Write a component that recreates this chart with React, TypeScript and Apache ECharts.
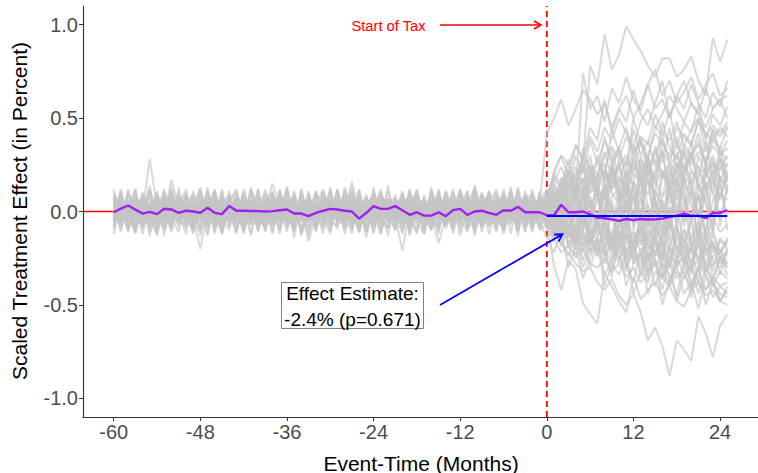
import React, { useEffect, useRef } from "react";
import * as echarts from "echarts";

// Event time in months (-60 .. 25)
const MONTH_START = -60;
const MONTH_END = 25;
const X_TICKS = [-60, -48, -36, -24, -12, 0, 12, 24];
const Y_TICKS = [-1.0, -0.5, 0.0, 0.5, 1.0];

// Treated unit (purple), in percent-scale units
const treatedPre = [
  -0.004, 0.015, 0.032, 0.01, -0.011, -0.002, -0.014, 0.015, 0.011, -0.007,
  0.004, 0.0, -0.007, 0.02, -0.007, -0.014, 0.029, 0.004, 0.004, 0.003,
  0.002, 0.0, 0.002, 0.007, 0.011, -0.011, -0.011, -0.025, -0.007, 0.004,
  0.014, 0.011, 0.004, 0.0, -0.038, -0.007, 0.029, 0.014, 0.014, 0.029,
  0.007, -0.018, -0.004, -0.022, -0.022, -0.004, -0.025, 0.007, 0.014, -0.018,
  0.0, 0.004, -0.007, -0.018, 0.007, 0.004, 0.025, -0.004, -0.004, -0.004,
];
const treatedPost = [
  -0.02, -0.02, 0.036, -0.004, -0.004, 0.0, -0.015, -0.033, -0.036, -0.042,
  -0.05, -0.04, -0.046, -0.04, -0.043, -0.042, -0.038, -0.03, -0.022, -0.012,
  -0.022, -0.022, -0.036, -0.008, -0.008, 0.008,
];

// Effect estimate (blue segment over the post period)
const EFFECT = -0.024;

// Placebo units (grey), values in hundredths; pre period (60) then post period (26)
const placebo01 = [3,-2,5,1,-4,2,6,-1,3,-5, 0,4,-3,2,7,-2,1,-4,5,2, -3,6,0,-2,4,-5,3,1,-1,5, -4,2,7,-3,0,4,-2,3,-6,1, 5,-1,2,-4,6,0,-3,4,1,-2, 3,-5,2,6,-1,0,4,-3,2,1,
  3,5,8,12,20,25,78,68,95,76,84,99,92,86,78,72,82,82,72,76,83,70,62,93,80,92];
const placebo02 = [-4,1,3,-2,6,-3,0,5,-1,2, 4,-6,2,1,-3,5,0,-2,3,-4, 1,5,-3,2,-1,4,-5,3,0,2, -2,4,1,-5,3,6,-1,0,-3,2, 5,-2,-4,3,1,-1,4,-3,2,6, -1,3,-4,0,5,-2,2,-3,1,4,
  42,50,60,46,55,65,60,52,58,45,55,62,50,58,68,55,60,50,62,70,58,52,66,55,60,50];
const placebo03 = [1,4,-3,0,2,-5,3,6,-2,1, -3,2,5,-1,-4,3,1,-2,6,0, 2,-3,4,1,-6,2,5,-1,3,-2, 4,0,-3,5,2,-4,1,3,-1,6, -2,3,1,-5,4,2,-3,0,5,-1, 2,-4,3,1,-2,6,0,-3,4,2,
  5,20,30,25,35,28,40,32,45,38,50,42,35,48,55,45,52,62,55,48,58,52,45,55,60,62];
const placebo04 = [-2,5,0,3,-4,1,-1,4,2,-6, 3,1,-2,5,0,-3,4,2,-5,1, 6,-2,1,3,-4,0,2,-1,5,-3, 1,4,-2,0,3,-5,2,6,-1,3, -3,1,4,-2,2,5,-4,1,0,3, -1,2,5,-3,1,-2,4,0,-4,3,
  2,8,12,22,18,15,25,20,30,35,28,40,32,38,30,42,36,30,45,40,35,48,42,38,45,40];
const placebo05 = [0,3,-2,4,1,28,2,-3,5,0, -1,4,2,-5,3,1,-2,6,0,-3, 4,-1,2,3,-4,5,0,-2,1,4, -3,2,5,-1,0,3,-4,2,6,-2, 1,-3,4,2,-1,5,-2,0,3,-4, 2,5,-1,3,0,-2,4,1,-3,2,
  0,5,10,8,15,12,20,18,22,15,25,30,22,28,20,32,38,28,35,30,25,32,28,35,30,38];
const placebo06 = [5,-1,2,-4,3,0,6,-2,1,3, -5,2,4,-1,1,-3,5,2,-2,0, 3,-4,1,6,-2,2,-1,4,-3,1, 0,5,-2,3,-5,1,4,-1,2,-3, 6,0,-2,3,1,-4,2,5,-1,0, -3,4,1,-2,5,2,-1,3,-5,1,
  -2,4,8,5,12,10,15,8,12,18,14,20,25,18,22,28,20,25,30,22,28,24,20,26,22,30];
const placebo07 = [-3,2,-6,1,-2,4,-5,0,2,-4, 1,-3,3,-7,0,2,-4,1,-2,3, -5,0,2,-3,1,-6,3,-1,0,-4, 2,-2,-5,1,3,-3,0,-6,2,-1, -3,4,-2,0,-5,2,1,-4,3,-2, 0,-3,2,-5,1,-1,-4,2,-2,-3,
  -2,-10,-18,-22,-28,-32,-30,-38,-42,-36,-45,-50,-44,-54,-69,-62,-72,-88,-69,-74,-80,-56,-65,-78,-61,-55];
const placebo08 = [-1,-4,2,-3,0,-6,3,-2,1,-5, 2,-3,-20,0,-4,3,-2,-5,1,-1, -3,2,-4,0,-6,1,3,-2,-4,2, -1,-5,3,0,-2,-4,1,2,-6,0, 3,-3,-1,2,-5,0,-2,4,-3,-1, 1,-4,-2,3,-5,0,2,-3,-1,-2,
  -5,-29,-42,-26,-31,-49,-55,-60,-33,-40,-48,-54,-35,-47,-42,-38,-45,-40,-48,-51,-42,-38,-45,-42,-48,-50];
const placebo09 = [2,-5,-1,3,-3,0,-4,1,-2,4, -6,0,2,-3,1,-5,3,-1,-2,2, 0,-4,5,-2,-3,1,-1,4,-5,0, 3,-2,-1,-4,2,0,-6,3,-2,1, -1,2,-4,1,-3,5,-2,-5,0,2, -3,1,-2,4,-4,0,-1,2,-5,-2,
  -2,-15,-22,-18,-25,-20,-28,-30,-25,-32,-28,-35,-30,-38,-33,-28,-35,-40,-32,-36,-30,-38,-42,-35,-40,-38];
const placebo10 = [-2,1,-4,3,0,-3,2,-5,1,-1, 3,-2,0,-5,2,-1,-3,4,-2,0, -4,2,1,-3,0,3,-5,1,-2,2, -1,-3,4,0,-2,1,-4,2,0,-3, -21,2,-1,-4,3,0,-2,1,-5,2, 0,-3,1,-1,4,-2,-4,2,0,-3,
  0,-8,-12,-10,-15,-18,-14,-20,-22,-18,-25,-20,-24,-28,-22,-26,-30,-24,-28,-25,-30,-26,-32,-28,-25,-30];
const placebo11 = [4,-3,1,-1,2,-5,0,3,-2,5, -1,2,-4,1,6,-3,0,2,-1,-4, 3,0,-2,5,-1,-3,2,-4,4,0, -2,3,1,-5,0,4,-1,-3,2,5, -4,1,3,-2,0,-1,5,-3,2,-2, 4,0,-5,2,1,-3,3,-1,0,2,
  3,-5,-8,-12,-9,-14,-10,-16,-12,-18,-15,-20,-16,-12,-18,-22,-16,-20,-24,-18,-22,-25,-20,-18,-24,-22];
const placebo12 = [1,5,-2,0,3,-1,4,-4,2,0, 5,-2,1,3,-3,2,6,-1,0,4, -2,1,15,3,-1,0,5,-3,2,1, 4,-1,-3,2,6,0,-2,3,1,-4, 2,5,-1,0,3,-3,1,4,-2,2, 6,-1,0,3,-2,4,1,-3,5,0,
  2,-4,6,-3,8,-5,4,10,-6,8,12,-4,6,15,-8,10,5,-10,12,8,-6,14,4,-8,10,6];
const placebo13 = [-3,0,4,-1,-5,2,1,-2,5,-3, 0,3,-1,-4,2,4,-3,1,-2,6, 1,-5,3,0,2,-2,4,-1,-3,3, 5,-4,0,16,-1,-3,3,5,-2,0, -4,2,1,6,-3,0,-1,3,4,-5, 2,0,3,-4,1,5,-2,-1,2,-3,
  1,6,-3,9,2,-7,5,-2,11,-5,4,16,-3,8,-9,12,2,-6,18,5,-4,9,-11,6,14,-2];
const placebo14 = [6,2,-1,4,0,-3,5,1,-2,3, 2,-1,5,0,4,-2,1,6,-3,2, 5,0,3,-2,6,1,-1,4,2,-4, 3,6,0,-1,5,2,-3,4,1,0, 6,-2,3,1,-1,4,0,5,-3,2, 1,4,-2,6,0,3,-1,2,5,1,
  5,12,8,15,6,18,10,14,22,12,18,9,20,16,25,14,22,11,26,18,15,24,12,20,28,16];
const placebo15 = [-5,-2,1,-4,2,-6,0,-3,1,-1, -4,2,-2,-6,0,1,-5,-1,3,-3, -2,-5,1,-1,-4,2,-3,0,-6,1, -3,0,-2,2,-5,-1,1,-4,0,-2, 1,-6,-3,0,-1,-4,2,-2,-5,0, -2,1,-4,-3,0,-5,-1,2,-3,-4,
  -4,-10,-6,-14,-8,-5,-16,-9,-12,-20,-7,-15,-11,-22,-13,-8,-18,-25,-12,-16,-21,-10,-14,-19,-23,-15];
const placebo16 = [2,-1,3,6,-2,0,4,-4,1,5, -3,0,2,-1,4,-5,3,1,0,-2, 4,2,-3,5,1,-1,0,3,-4,2, 6,-1,1,-3,2,4,-2,0,5,-1, 3,-4,0,2,-2,6,1,-3,4,0, -1,2,4,-2,3,-5,2,0,1,3,
  0,8,-5,12,18,6,22,10,-3,15,24,8,30,14,20,35,18,26,12,32,22,16,38,20,28,24];
const placebo17 = [-1,3,-5,2,4,-2,0,1,-3,6, 2,-4,1,3,-1,0,-5,4,2,-2, 1,3,-4,-1,5,0,2,-3,1,-5, 0,2,3,-4,1,-2,5,-1,-3,2, 4,0,-2,1,-5,3,2,-1,0,4, -3,2,0,5,-2,1,-4,3,-1,0,
  -3,2,-8,-4,-12,5,-15,-6,-10,-18,-3,-14,-20,-8,-16,-24,-11,-6,-19,-26,-13,-9,-22,-17,-28,-20];
const placebo18 = [3,0,-3,5,1,-2,2,-4,4,1, -1,5,-3,0,2,-2,4,1,-4,3, 0,-2,4,1,-5,3,-1,2,0,5, -3,1,2,-1,4,0,-4,5,2,-2, 1,3,-2,5,-1,-17,-3,0,4,-1, 3,-2,2,0,-4,1,5,-3,2,1,
  4,-2,10,3,-6,14,7,-4,12,20,5,-8,16,9,25,4,-10,18,11,-5,22,15,6,-12,19,10];
const placebo19 = [0,-4,2,-1,5,-3,1,3,-2,-5, 4,1,-3,2,0,5,-4,-1,3,0, -3,4,-1,-2,3,0,2,-5,4,-1, 2,-3,0,4,-2,3,1,-4,0,5, -2,-1,3,-4,2,1,-3,4,-1,0, 5,-2,1,-3,0,2,-1,4,-4,2,
  -6,-12,-3,-18,-8,-22,-14,-5,-20,-28,-10,-24,-16,-32,-12,-26,-36,-18,-30,-22,-34,-15,-28,-38,-24,-30];
const placebo20 = [4,2,-1,0,3,-4,6,1,-2,2, 0,3,5,-3,1,-1,2,-4,4,3, -2,0,1,6,-3,2,4,-1,0,-3, 5,1,-2,3,0,-4,2,6,-1,1, -2,4,0,-3,5,2,-1,1,3,-4, 0,3,-2,1,6,-1,2,-3,0,4,
  8,15,5,20,12,25,10,30,18,22,35,15,28,40,20,32,26,45,22,36,30,42,25,38,34,45];
const placebo21 = [-2,4,0,-5,3,1,-3,2,0,-1, 5,-2,-4,3,0,2,-1,-3,4,1, -4,3,0,-2,1,5,-3,0,-1,3, -1,-4,3,1,-2,0,4,-3,1,-5, 2,0,-1,4,-3,1,-5,2,3,-2, 14,1,3,-1,-2,4,0,-3,1,-1,
  2,-6,4,-10,6,-3,-12,8,-5,-15,3,-9,10,-18,-4,7,-14,-8,5,-20,-6,9,-16,-3,-11,-7];
const placebo22 = [1,-2,-4,3,0,5,-1,-3,2,4, -2,0,3,-1,-5,2,1,4,-3,0, 3,-1,2,-4,0,1,-2,5,-3,2, -4,3,0,2,-1,-3,5,1,-2,-4, 0,4,-1,-2,6,-4,3,0,-1,5, -2,0,4,-3,2,-1,1,-5,3,-2,
  -1,10,4,16,8,-2,20,12,6,25,14,3,28,18,9,22,32,12,26,16,8,30,20,14,35,18];
const placebo23 = [-4,-1,2,-3,4,0,-2,5,-5,1, 3,-3,0,2,-2,-4,1,3,-1,-6, 2,0,-3,4,-2,1,-4,-1,3,0, 1,-2,5,-3,0,2,-1,-5,3,-1, -2,1,-4,3,0,-3,2,4,-2,1, 0,-5,2,-1,3,0,-3,1,-2,4,
  -3,-8,-14,-6,-18,-10,-22,-15,-28,-12,-25,-32,-18,-35,-22,-40,-28,-34,-45,-26,-38,-30,-42,-36,-48,-40];
const placebo24 = [2,3,-3,1,-1,4,2,-2,17,3, 1,-4,4,2,-1,0,3,-3,5,-2, -1,2,4,-2,3,-4,1,2,-1,4, 0,-1,3,5,-2,1,-3,4,0,2, 3,-2,1,0,4,-1,3,-4,2,1, -3,4,0,2,-1,3,-2,5,1,-1,
  6,3,14,-4,9,18,2,-7,15,24,5,11,-9,20,28,6,-12,16,32,9,-5,22,14,-10,26,12];
const placebo25 = [-1,0,5,-2,2,-3,-1,3,-4,0, 4,1,-2,-5,3,1,-3,0,2,-1, 5,-3,-1,3,-5,4,0,-2,2,-1, 3,0,-4,2,1,-2,3,-1,-4,4, -1,-3,2,0,-2,3,-4,1,5,-3, 2,-1,-3,4,0,-2,3,1,-4,0,
  0,-4,3,-9,-2,6,-13,-5,2,-16,-8,4,-20,-10,-1,-24,-14,3,-28,-9,-18,-4,-30,-12,-22,-16];
const placebo26 = [3,5,-2,0,-3,2,4,-1,1,-4, -2,3,0,6,-1,-4,2,0,4,1, 2,-1,-5,0,3,-2,5,2,-4,3, -1,4,2,-2,3,-3,0,1,5,-2, 4,-3,6,1,0,-2,4,3,-1,-3, 1,-2,5,0,-4,3,1,-1,4,2,
  10,18,12,24,15,30,22,26,38,28,34,45,30,40,36,52,42,38,48,35,44,50,40,46,42,48];
const placebo27 = [-3,1,-2,4,-4,0,2,-1,-5,3, 0,-3,2,-2,4,-1,-4,1,0,2, -3,5,-2,-1,0,-4,2,-16,-1,-3, 4,-2,1,-5,2,0,-1,3,-3,1, -2,5,-1,-3,1,4,-2,0,-4,2, -1,-3,3,0,-2,1,-4,2,-1,3,
  -5,-2,-9,-14,-6,-11,-18,-8,-15,-22,-12,-6,-19,-26,-10,-16,-23,-30,-14,-20,-27,-18,-32,-24,-20,-28];
const placebo28 = [1,-3,4,2,-2,3,-5,1,3,0, -1,4,-2,1,3,-3,0,5,-4,2, 1,3,-1,-3,4,0,2,-2,5,-4, 2,0,-3,4,1,-1,3,-2,0,5, -3,2,4,-1,0,3,-2,5,1,-3, 2,1,-2,4,-3,0,5,-1,2,-2,
  3,0,-5,6,-2,9,4,-8,12,2,-6,15,7,-3,18,-10,8,14,-5,20,3,-12,16,10,-4,12];
const placebo29 = [0,2,-3,5,1,-1,3,-4,2,0, 4,-2,1,3,-5,0,2,-1,4,-3, 1,5,-2,0,3,-1,-4,2,1,3, -2,0,4,-3,1,5,-1,2,-4,0, 3,1,-2,4,-1,-3,2,0,5,-2, 1,-4,3,0,2,-1,4,-2,0,3,
  4,22,30,18,36,28,45,38,60,42,55,48,65,52,46,58,70,50,62,55,68,58,50,64,56,70];
const placebo30 = [-2,3,1,-4,0,2,-1,5,-3,1, 2,0,-4,3,1,-2,5,-1,0,-3, 4,-2,0,2,-3,1,3,-5,2,0, -1,4,-2,0,3,-4,1,2,-1,5, -3,0,2,-1,4,1,-4,3,0,-2, 5,-1,0,-3,2,4,-2,1,3,-1,
  2,6,4,10,8,74,55,62,48,66,58,72,60,54,68,76,62,70,58,64,72,60,68,74,62,66];
const placebo31 = [8,-6,11,-3,5,-9,2,10,-4,7, -8,3,12,-5,1,-10,6,-2,9,-7, 4,-11,7,0,-6,10,-3,5,-9,2, 11,-4,6,-8,3,-2,9,-6,1,-10, 5,8,-3,-9,12,-1,4,-7,10,-5, 2,-8,6,11,-4,0,-9,7,-3,5,
  -4,10,-12,6,-18,14,-8,20,-15,4,-22,12,-6,24,-16,8,-25,15,-10,18,-20,10,-14,22,-8,14];
const placebo32 = [-7,4,-10,2,8,-5,-12,6,1,-8, 9,-3,-6,11,-9,3,5,-11,7,-2, -8,6,10,-4,-1,8,-10,3,-6,9, -3,12,-7,1,-9,5,7,-12,4,-5, 10,-6,2,-10,7,-2,-8,9,-4,6, -11,3,8,-6,-2,10,-7,4,-9,1,
  6,-10,-18,-8,-24,-12,-30,-16,-22,-35,-14,-28,-38,-20,-32,-26,-42,-24,-36,-30,-46,-28,-34,-40,-32,-36];
const placebo33 = [10,2,-5,8,-9,4,-2,12,-6,3, -4,9,0,-8,6,-12,5,2,-7,11, -1,-9,8,4,-11,6,-3,10,-5,1, 7,-6,13,-2,-8,3,9,-10,5,-4, -7,11,-3,6,-10,2,8,-5,12,-1, 4,-9,7,-3,10,-6,1,9,-8,5,
  12,4,18,8,24,14,30,10,22,34,16,28,20,38,24,18,32,26,40,22,30,36,26,42,30,34];
const placebo34 = [-9,5,1,-11,7,-4,10,-2,-7,3, 6,-10,8,-1,-5,12,-8,4,-3,9, -6,2,-12,7,5,-9,3,-4,11,-7, 1,8,-5,-10,6,2,-8,10,-3,-6, 9,-4,-11,5,0,-7,11,-2,6,-9, -5,10,-1,-8,4,7,-10,3,-6,8,
  -8,-14,-4,-20,-10,-26,-16,-6,-22,-32,-18,-12,-28,-22,-36,-16,-30,-40,-24,-34,-28,-44,-30,-38,-48,-42];
const placebo35 = [5,-8,9,3,-6,11,-4,-9,7,0, -12,6,2,-7,10,-3,-5,8,-10,4, 9,-2,-8,12,-5,1,7,-11,3,6, -9,4,-1,10,-7,8,-3,-6,11,-2, -5,9,3,-12,6,-1,10,-8,2,7, -10,5,-4,8,-7,12,-3,0,6,-9,
  2,14,8,22,4,28,16,10,32,18,26,12,36,22,30,16,40,26,20,34,28,38,24,44,32,28];
const placebo36 = [-3,9,-11,5,2,-8,7,-1,10,-6, 4,-9,11,-3,-7,6,0,-12,8,3, -10,7,-2,9,-5,-8,12,-4,1,-9, 6,-1,-7,3,11,-10,4,8,-6,2, -12,5,9,-3,-8,7,-1,11,-5,-2, 8,-7,3,-10,6,1,-9,5,10,-4,
  -2,-8,6,-14,2,-18,-6,10,-20,-12,4,-24,-10,8,-28,-16,2,-22,-30,6,-18,-26,-8,-32,-14,-20];
const placebo37 = [7,-2,4,-9,10,1,-6,8,-3,-11, 5,9,-4,-1,11,-8,3,-5,10,-2, -7,4,8,-10,2,-3,9,-6,5,11, -4,-8,6,1,-11,7,-2,10,-5,3, 8,-10,2,7,-4,-9,11,-1,5,-6, -2,9,-7,4,10,-5,-3,8,-11,6,
  4,12,-2,18,10,-6,24,14,2,28,8,20,-4,30,16,10,34,4,26,18,38,12,22,30,16,26];
const placebo38 = [-6,11,-2,-9,4,8,-12,3,6,-5, 10,-7,1,9,-4,-11,5,7,-8,2, -3,12,-6,-2,8,-9,4,1,-10,7, 5,-4,10,-8,-1,6,-12,9,3,-7, -9,2,7,-5,11,-3,-6,10,-1,4, 12,-8,-3,6,-10,2,9,-4,-7,11,
  -10,-4,-16,-24,-12,-30,-20,-14,-34,-26,-18,-40,-28,-22,-44,-32,-36,-26,-48,-34,-40,-30,-50,-38,-44,-46];
const placebo39 = [9,-5,2,12,-8,-1,6,-10,4,8, -3,-9,7,2,-6,11,-4,5,-12,3, 8,-1,-7,10,4,-11,6,-2,9,-8, 1,11,-5,-3,8,-9,2,12,-6,4, -2,7,-10,5,1,-8,10,3,-4,-11, 6,-3,11,-7,2,5,-9,8,-1,-6,
  8,20,14,28,10,34,22,18,40,26,32,20,44,30,38,24,48,34,28,42,36,50,32,44,40,46];
const placebo40 = [-5,2,-10,7,3,-6,11,-8,0,9, -2,-11,6,4,-9,8,-3,-6,12,-1, 5,-8,3,-12,9,1,-5,7,-10,4, -7,10,-2,5,-11,3,8,-4,-9,6, 2,-6,11,-9,4,-2,7,-12,5,-3, 9,-1,-8,3,-5,10,-7,2,6,-10,
  -6,4,-10,8,-14,2,-18,-4,10,-20,-8,6,-24,-12,4,-16,-26,2,-20,-10,-28,-14,0,-22,-16,-18];
const placebo41 = [2,7,-4,-10,9,-1,5,-7,12,-3, -8,4,10,-5,1,-9,6,11,-2,-6, 3,-10,5,8,-7,2,-4,11,-9,1, 10,-3,-8,6,-1,9,-11,4,7,-5, -4,12,-6,1,8,-10,3,5,-8,9, -7,2,10,-4,-9,6,1,-11,8,3,
  0,-6,10,2,16,-4,20,8,-2,24,12,4,-6,18,28,6,-8,22,14,32,10,-4,26,18,8,22];
const placebo42 = [-8,3,6,-11,1,9,-5,-2,10,-7, 4,-3,-9,8,5,-12,2,7,-6,11, -1,-7,9,-4,12,-8,0,5,-11,6, -5,3,-10,8,2,-6,11,-3,-8,4, 7,-11,1,6,-4,9,-7,-2,10,-9, 3,-5,8,-1,-10,4,7,-8,2,-6,
  -14,-22,-10,-30,-18,-36,-24,-16,-40,-28,-34,-22,-44,-32,-38,-26,-50,-36,-30,-44,-38,-52,-34,-46,-40,-44];
const placebo43 = [6,-10,4,1,-7,11,-3,8,-9,2, 12,-5,-1,7,-11,3,9,-4,-8,5, -6,10,-2,-9,6,4,-12,8,1,-5, 9,-7,3,11,-4,-1,6,-10,5,7, -3,-8,10,-1,4,-12,8,2,-6,11, -9,5,0,-7,12,-3,-5,9,-2,4,
  6,16,24,12,30,20,38,26,18,44,32,24,50,36,28,46,40,54,34,48,42,58,38,52,46,56];
const placebo44 = [-4,8,-1,-12,6,3,-9,10,-5,1, 7,-8,2,11,-6,-3,9,-10,4,6, -11,1,8,-5,3,-9,10,-2,-7,12, -2,5,-9,7,1,-11,4,9,-6,-1, 11,-7,4,-3,-10,8,2,-5,9,-8, -1,6,-12,3,8,-4,-7,11,0,-9,
  -2,-12,4,-18,-8,2,-22,-14,-4,-26,-10,-30,-18,-6,-34,-22,-14,-38,-26,-20,-42,-30,-16,-36,-24,-34];
const placebo45 = [12,-4,6,-9,2,14,-7,1,-11,5, -2,9,-13,4,7,-5,11,-8,0,6, -10,3,8,-6,13,-1,-9,5,2,-12, 7,-3,10,-8,4,-14,6,1,-5,9, -7,11,-2,5,-10,8,-4,12,-6,3, -9,6,1,-11,9,-3,4,-8,10,-1,
  5,-8,12,-4,16,-10,8,-14,18,-6,10,-18,14,-2,20,-12,6,-16,22,-8,12,-20,16,-4,18,-10];
const placebo46 = [-10,6,-3,11,-8,4,-13,9,-1,7, 3,-12,5,-6,10,-2,8,-11,4,-7, 12,-5,1,-9,6,-14,9,-3,11,-4, -6,8,-12,2,5,-9,13,-7,3,-1, 9,-13,6,-4,10,-1,-8,4,-11,7, 2,-7,11,-5,-2,13,-10,6,-4,8,
  -6,8,-14,4,-20,10,-12,-2,-24,6,-16,-8,-28,2,-20,-12,-30,-4,-22,-14,-32,-6,-24,-16,-34,-20];
const placebo47 = [4,-11,9,-2,-7,12,-5,3,-9,10, -6,1,13,-8,5,-3,-10,7,2,-12, 8,-4,-1,11,-9,6,-2,-13,10,3, -8,12,-5,1,-11,7,3,-6,14,-9, 5,-2,-12,9,-4,11,-7,1,6,-10, 13,-5,3,-8,7,-12,10,-1,-6,2,
  10,2,18,-4,14,24,6,-6,20,12,28,0,16,8,30,-2,22,14,6,26,18,-4,24,10,30,16];
const placebo48 = [-1,10,-8,5,-12,3,9,-6,13,-4, 8,-9,2,-13,11,-5,6,-2,-10,12, -7,4,-11,9,0,-6,12,-9,4,-3, 11,-2,7,-12,9,-4,-8,10,-1,6, -11,3,8,-7,13,-5,1,-9,4,11, -6,9,-3,12,-8,2,-11,7,-4,5,
  -8,-16,-4,-12,2,-20,-10,-24,-6,-18,-28,-8,-22,-14,-32,-10,-26,-18,-6,-30,-20,-12,-34,-16,-24,-28];
const placebo49 = [7,3,-10,12,-6,1,8,-13,5,-2, -9,11,-4,6,-12,9,-1,4,-7,13, 2,-8,10,-5,-3,11,-11,7,-6,1, -12,6,4,-9,12,-3,-7,9,-2,-10, 8,-5,12,-11,3,6,-9,2,11,-4, -3,10,-8,5,-12,1,7,-6,12,-9,
  2,10,-6,14,4,-10,18,8,-4,22,12,-8,16,26,2,-12,20,10,-6,24,14,-2,18,28,6,20];
const placebo50 = [-12,5,2,-7,10,-4,-9,11,-1,6, 9,-6,-11,4,12,-8,1,-3,10,-13, 5,9,-7,-2,13,-10,3,6,-8,11, -4,-9,12,-1,7,-11,4,2,-13,8, -3,10,-6,-12,5,9,-2,-7,12,-5, 11,-8,2,6,-10,4,-13,9,3,-7,
  -4,-12,2,-8,-18,-2,-14,-24,-6,-20,-10,-30,-16,-4,-26,-14,-36,-20,-8,-28,-18,-38,-12,-26,-30,-22];
const placebo51 = [3,-7,12,-4,8,-11,1,6,-9,13, -5,-1,10,-12,4,7,-8,11,-3,-6, 12,-10,5,2,-7,9,-13,3,8,-4, -11,6,-2,13,-8,1,10,-5,-9,4, 7,-12,9,-3,-6,11,-1,-10,5,8, -13,4,10,-7,1,-4,12,-11,6,-2,
  8,-2,14,20,6,12,-4,18,26,10,4,22,14,-6,28,16,8,24,-2,20,32,12,6,26,18,14];
const placebo52 = [-5,12,-9,1,6,-13,8,-3,10,-6, 2,7,-10,13,-4,-8,3,12,-11,5, -2,-9,11,-6,4,8,-12,1,9,-5, 13,-7,-3,10,-10,5,-1,-12,7,3, -8,4,11,-2,-9,12,-5,7,-13,1, 6,-11,3,9,-4,-7,13,-2,-10,10,
  -2,4,-10,-4,-16,0,-12,-22,-6,-18,2,-26,-14,-8,-24,-2,-20,-30,-10,-16,-4,-28,-18,-10,-22,-14];

const PLACEBOS = [
  placebo01, placebo02, placebo03, placebo04, placebo05, placebo06, placebo07, placebo08, placebo09, placebo10,
  placebo11, placebo12, placebo13, placebo14, placebo15, placebo16, placebo17, placebo18, placebo19, placebo20,
  placebo21, placebo22, placebo23, placebo24, placebo25, placebo26, placebo27, placebo28, placebo29, placebo30,
  placebo31, placebo32, placebo33, placebo34, placebo35, placebo36, placebo37, placebo38, placebo39, placebo40,
  placebo41, placebo42, placebo43, placebo44, placebo45, placebo46, placebo47, placebo48, placebo49, placebo50,
  placebo51, placebo52,
];

const FONT = "'Liberation Sans', Arial, Helvetica, sans-serif";

export default function App() {
  const ref = useRef<HTMLDivElement>(null);

  useEffect(() => {
    if (!ref.current) return;
    const chart = echarts.init(ref.current, null, { renderer: "svg" });

    const months: number[] = [];
    for (let m = MONTH_START; m <= MONTH_END; m++) months.push(m);

    const placeboSeries = PLACEBOS.map((arr, i) => ({
      type: "line",
      name: "placebo" + (i + 1),
      data: arr.map((v, k) => [months[k], v / 100]),
      showSymbol: false,
      symbol: "none",
      silent: true,
      z: 3,
      lineStyle: { color: "#c4c4c4", width: 2, opacity: 0.65 },
    }));

    const treated = [...treatedPre, ...treatedPost];

    const xMin = -64.25;
    const xMax = 29.25;

    const option: any = {
      animation: false,
      backgroundColor: "#ffffff",
      textStyle: { fontFamily: FONT },
      grid: { left: 83, top: 6, width: 678, height: 411 },
      xAxis: {
        type: "value",
        min: xMin,
        max: xMax,
        splitLine: { show: false },
        axisLine: { show: true, onZero: false, lineStyle: { color: "#333333", width: 1.1 } },
        axisTick: { show: true, length: 4, customValues: X_TICKS, lineStyle: { color: "#333333" } },
        axisLabel: {
          customValues: X_TICKS,
          color: "#4d4d4d",
          fontSize: 20,
          fontFamily: FONT,
          margin: 5,
          formatter: (v: number) => String(v),
        },
      },
      yAxis: {
        type: "value",
        min: -1.1,
        max: 1.1,
        splitLine: { show: false },
        axisLine: { show: true, onZero: false, lineStyle: { color: "#333333", width: 1.1 } },
        axisTick: { show: true, length: 4, customValues: Y_TICKS, lineStyle: { color: "#333333" } },
        axisLabel: {
          customValues: Y_TICKS,
          color: "#4d4d4d",
          fontSize: 20,
          fontFamily: FONT,
          margin: 5,
          formatter: (v: number) => v.toFixed(1),
        },
      },
      series: [
        {
          type: "line",
          name: "zero",
          data: [[xMin, 0], [xMax, 0]],
          showSymbol: false,
          symbol: "none",
          silent: true,
          z: 1,
          lineStyle: { color: "#ff0000", width: 1.6 },
        },
        {
          type: "line",
          name: "taxStart",
          data: [[0, -1.1], [0, 1.1]],
          showSymbol: false,
          symbol: "none",
          silent: true,
          z: 1,
          lineStyle: { color: "#ff0000", width: 1.8, type: [6, 4] },
        },
        ...placeboSeries,
        {
          type: "line",
          name: "treated",
          data: treated.map((v, k) => [months[k], v]),
          showSymbol: false,
          symbol: "none",
          silent: true,
          z: 5,
          lineStyle: { color: "#a020f0", width: 2.4 },
        },
        {
          type: "line",
          name: "effect",
          data: [[0, EFFECT], [MONTH_END, EFFECT]],
          showSymbol: false,
          symbol: "none",
          silent: true,
          z: 6,
          lineStyle: { color: "#0000ff", width: 2 },
        },
      ],
      graphic: [
        {
          type: "text",
          x: 19,
          y: 211,
          rotation: Math.PI / 2,
          style: {
            text: "Scaled Treatment Effect (in Percent)",
            fontSize: 21,
            fontFamily: FONT,
            fill: "#000000",
            align: "center",
            verticalAlign: "middle",
          },
        },
        {
          type: "text",
          x: 421,
          y: 463,
          style: {
            text: "Event-Time (Months)",
            fontSize: 21,
            fontFamily: FONT,
            fill: "#000000",
            align: "center",
            verticalAlign: "middle",
          },
        },
        {
          type: "text",
          x: 388.5,
          y: 26,
          z: 20,
          style: {
            text: "Start of Tax",
            fontSize: 14.7,
            fontFamily: FONT,
            fill: "#ff0000",
            align: "center",
            verticalAlign: "middle",
          },
        },
        {
          type: "line",
          z: 20,
          shape: { x1: 440, y1: 25, x2: 541, y2: 25 },
          style: { stroke: "#ff0000", lineWidth: 1.6 },
        },
        {
          type: "polyline",
          z: 20,
          shape: { points: [[534, 21], [541, 25], [534, 29]] },
          style: { stroke: "#ff0000", lineWidth: 1.6, fill: "none" },
        },
        {
          type: "line",
          z: 20,
          shape: { x1: 440, y1: 305, x2: 562, y2: 234.5 },
          style: { stroke: "#0000ff", lineWidth: 1.8 },
        },
        {
          type: "polyline",
          z: 20,
          shape: { points: [[554, 234.5], [562.5, 234.3], [558.5, 241.5]] },
          style: { stroke: "#0000ff", lineWidth: 1.8, fill: "none" },
        },
        {
          type: "rect",
          shape: { x: 281.5, y: 282.5, width: 142, height: 46 },
          style: { fill: "#ffffff", stroke: "#808080", lineWidth: 1 },
          z: 20,
        },
        {
          type: "text",
          x: 352.5,
          y: 293,
          z: 21,
          style: {
            text: "Effect Estimate:",
            fontSize: 19,
            fontFamily: FONT,
            fill: "#000000",
            align: "center",
            verticalAlign: "middle",
          },
        },
        {
          type: "text",
          x: 352.5,
          y: 319.5,
          z: 21,
          style: {
            text: "-2.4% (p=0.671)",
            fontSize: 19,
            fontFamily: FONT,
            fill: "#000000",
            align: "center",
            verticalAlign: "middle",
          },
        },
      ],
    };

    chart.setOption(option);
    return () => chart.dispose();
  }, []);

  return (
    <div
      ref={ref}
      style={{ position: "fixed", left: 0, top: 0, width: 758, height: 473 }}
    />
  );
}
